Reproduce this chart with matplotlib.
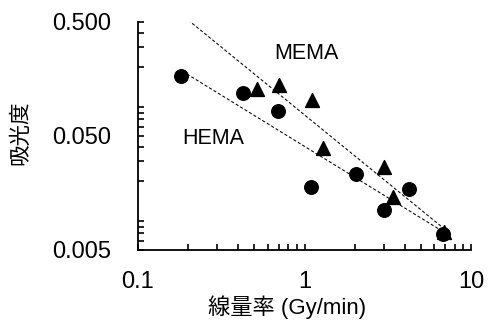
import numpy as np
import matplotlib
matplotlib.use("Agg")
import matplotlib.pyplot as plt
from matplotlib.ticker import LogLocator, NullFormatter, FixedLocator, FixedFormatter

plt.rcParams['font.family'] = ['Liberation Sans', 'Noto Sans CJK JP', 'DejaVu Sans']

# HEMA (circles)
hema_x = [0.180, 0.429, 0.690, 1.094, 2.03, 3.00, 4.27, 6.82]
hema_y = [0.168, 0.118, 0.0828, 0.0180, 0.0233, 0.0112, 0.0170, 0.00687]
# MEMA (triangles)
mema_x = [0.521, 0.700, 1.11, 1.30, 3.01, 3.41, 6.89]
mema_y = [0.1285, 0.140, 0.1035, 0.039, 0.0269, 0.0147, 0.00725]
# trendline spans
hema_span = [0.185, 6.8]
mema_span = [0.20, 6.8]

y_ticks = [0.005, 0.05, 0.5]
y_labels = ['0.005', '0.050', '0.500']
x_ticks = [0.1, 1, 10]
x_labels = ['0.1', '1', '10']

fig = plt.figure(figsize=(4.88, 3.24), dpi=100)
ax = fig.add_axes([138 / 488, 1 - 250 / 324, 333 / 488, 228 / 324])

ax.scatter(hema_x, hema_y, marker='o', s=95, color='black', zorder=3)
ax.scatter(mema_x, mema_y, marker='^', s=100, color='black', zorder=3)


def power_fit(xs, ys, span):
    k, b = np.polyfit(np.log10(xs), np.log10(ys), 1)
    xx = np.logspace(np.log10(span[0]), np.log10(span[1]), 50)
    return xx, 10 ** (b + k * np.log10(xx))


for xs, ys, span in [(hema_x, hema_y, hema_span), (mema_x, mema_y, mema_span)]:
    xx, yy = power_fit(xs, ys, span)
    ax.plot(xx, yy, linestyle=(0, (3, 2)), color='black', linewidth=0.75, zorder=2)

ax.set_xscale('log')
ax.set_yscale('log')
ax.set_xlim(0.1, 10)
ax.set_ylim(0.005, 0.5)

ax.xaxis.set_major_locator(FixedLocator(x_ticks))
ax.xaxis.set_major_formatter(FixedFormatter(x_labels))
ax.yaxis.set_major_locator(FixedLocator(y_ticks))
ax.yaxis.set_major_formatter(FixedFormatter(y_labels))
ax.xaxis.set_minor_locator(LogLocator(base=10, subs=np.arange(2, 10)))
ax.yaxis.set_minor_locator(LogLocator(base=10, subs=np.arange(2, 10)))
ax.xaxis.set_minor_formatter(NullFormatter())
ax.yaxis.set_minor_formatter(NullFormatter())

ax.tick_params(axis='both', which='both', direction='in', length=4, width=1.2, labelsize=17)
ax.tick_params(axis='y', which='major', pad=19)
ax.tick_params(axis='x', which='major', pad=15)

for side in ['top', 'right']:
    ax.spines[side].set_visible(False)
for side in ['left', 'bottom']:
    ax.spines[side].set_linewidth(1.3)

ax.text(1.03, 0.266, 'MEMA', fontsize=15.5, ha='center', va='center')
ax.text(0.282, 0.048, 'HEMA', fontsize=15.5, ha='center', va='center')

ax.set_xlabel('線量率 (Gy/min)', fontsize=16)
ax.xaxis.set_label_coords(0.447, -0.2)
ax.set_ylabel('吸光度', fontsize=15.5)
ax.yaxis.set_label_coords(-0.32, 0.513)

fig.savefig('out.png', dpi=100)
